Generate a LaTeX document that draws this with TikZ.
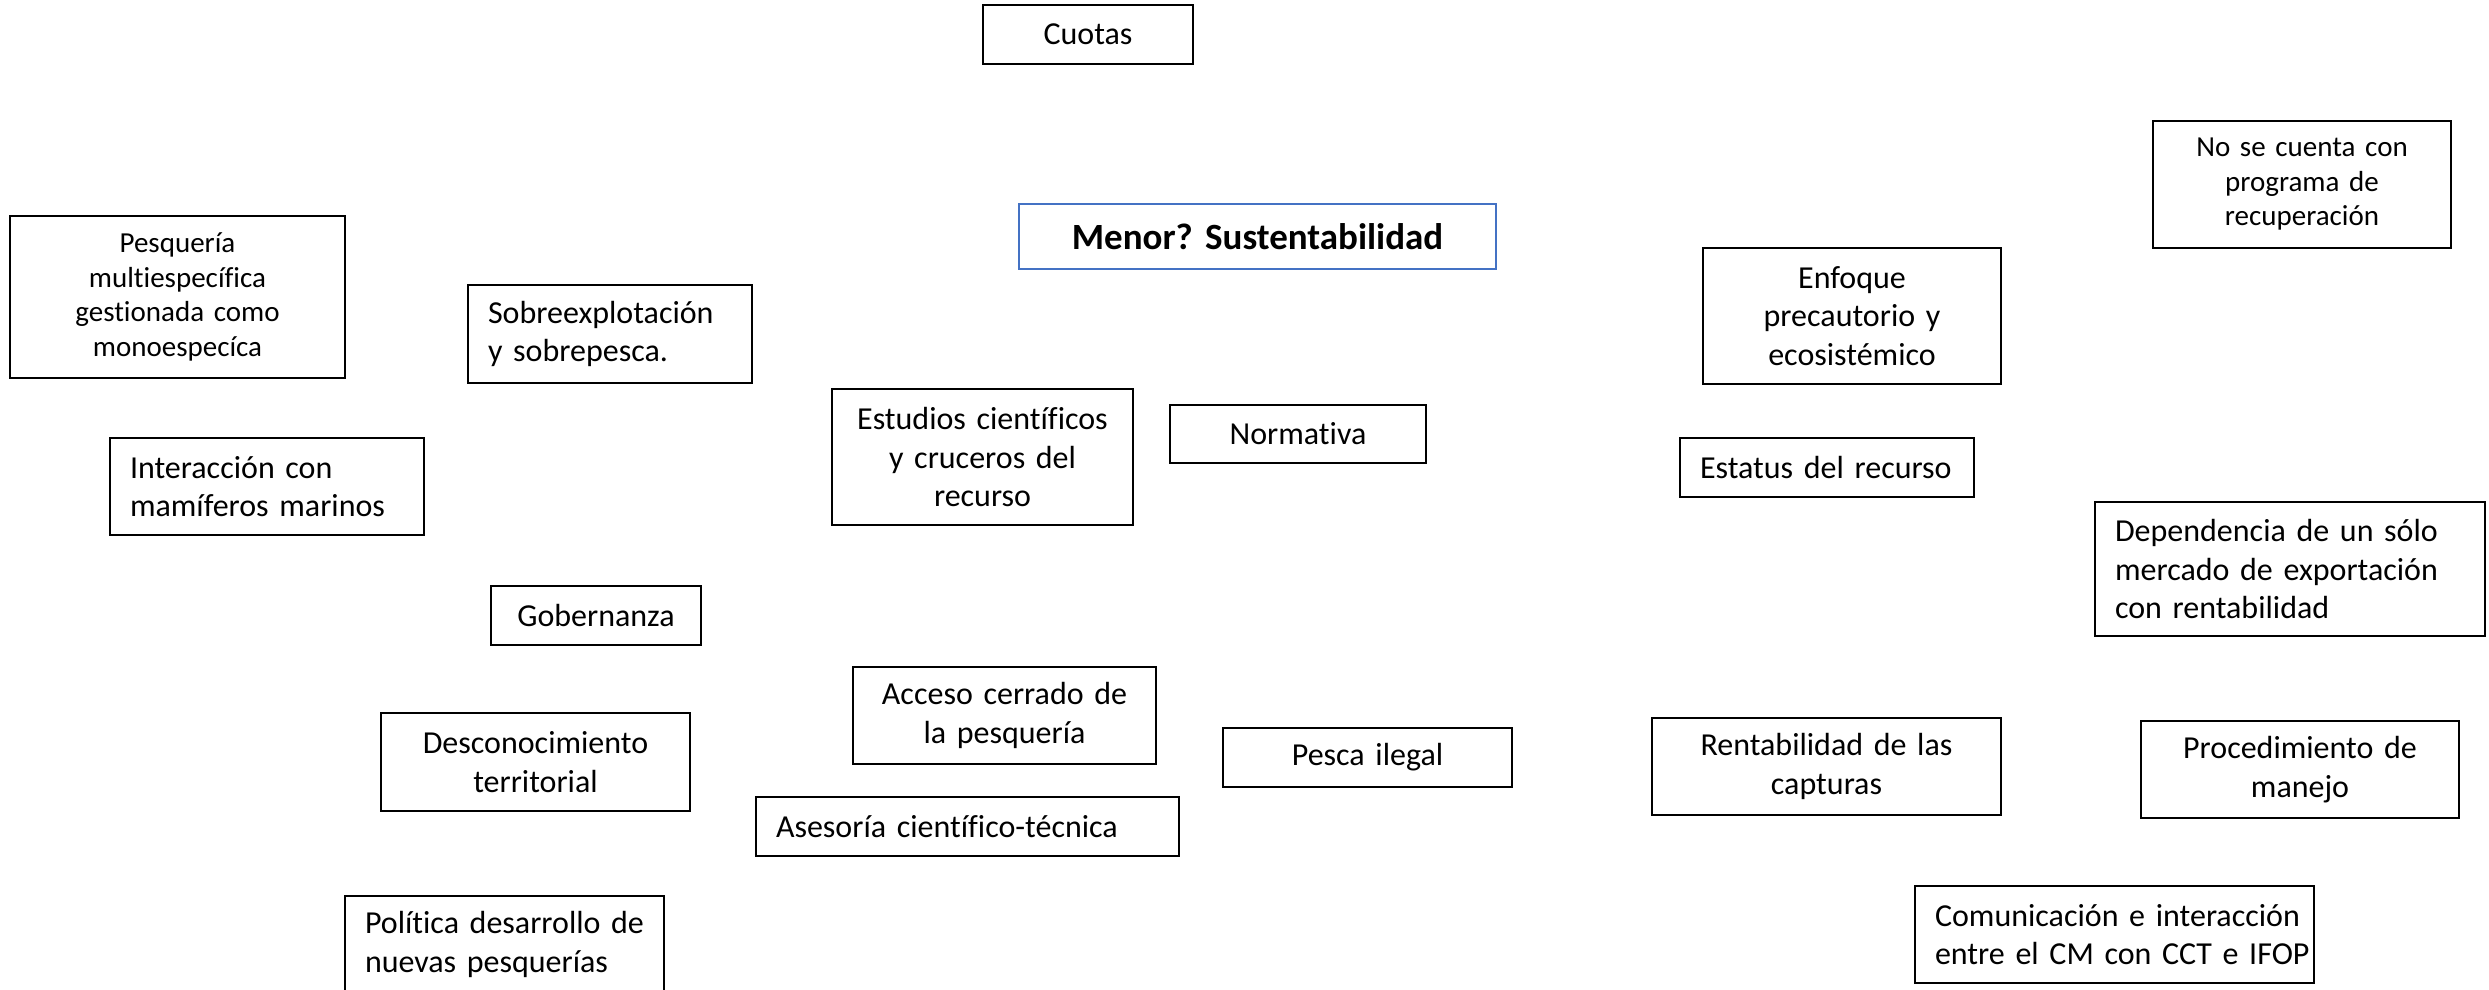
\documentclass[tikz,border=0pt]{standalone}
\usepackage{fontspec}
\setmainfont{Carlito}[Ligatures=NoCommon]
\definecolor{boxblue}{RGB}{68,114,196}
\tikzset{
  box/.style={draw=black, line width=2.6pt, inner sep=0pt, outer sep=0pt, anchor=north west,
    font=\fontsize{32}{38.5}\selectfont\frenchspacing},
  cbox/.style={box, align=center},
  lbox/.style={box, align=left},
  smallfont/.style={font=\fontsize{29}{34.5}\selectfont\frenchspacing},
  mainbox/.style={draw=boxblue, line width=2.2pt, inner sep=0pt, outer sep=0pt, anchor=north west,
    align=center, font=\fontsize{37}{44}\selectfont\bfseries\frenchspacing}
}
\begin{document}
\begin{tikzpicture}[x=1pt,y=-1pt]
\useasboundingbox (0,0) rectangle (2489,989);
\begin{scope}
\clip (0,0) rectangle (2489,989);
% top
\node[cbox, minimum width=210pt, minimum height=59pt, text width=190pt] (cuotas) at (983,5) {Cuotas};
\node[mainbox, minimum width=477pt, minimum height=65pt, text width=457pt] (main) at (1019,204) {Menor? Sustentabilidad};
% left column
\node[cbox, smallfont, minimum width=335pt, minimum height=162pt, text width=300pt] (pesq) at (10,216) {Pesquería\\multiespecífica\\gestionada como\\monoespecíca};
\node[lbox, minimum width=284pt, minimum height=98pt, text width=244pt] (sobre) at (468,285) {\mbox{Sobreexplotación}\\\mbox{y sobrepesca.}};
\node[lbox, minimum width=314pt, minimum height=97pt, text width=274pt] (inter) at (110,438) {\mbox{Interacción con}\\\mbox{mamíferos marinos}};
\node[cbox, minimum width=301pt, minimum height=136pt, text width=291pt] (estud) at (832,389) {Estudios científicos\\y cruceros del\\recurso};
\node[cbox, minimum width=256pt, minimum height=58pt, text width=236pt] (norm) at (1170,405) {Normativa};
\node[cbox, minimum width=210pt, minimum height=59pt, text width=190pt] (gob) at (491,586) {Gobernanza};
\node[cbox, minimum width=303pt, minimum height=97pt, text width=293pt] (acceso) at (853,667) {Acceso cerrado de\\la pesquería};
\node[cbox, minimum width=309pt, minimum height=98pt, text width=289pt] (desc) at (381,713) {Desconocimiento\\territorial};
\node[cbox, minimum width=289pt, minimum height=59pt, text width=269pt] (pesca) at (1223,728) {Pesca ilegal};
\node[lbox, minimum width=423pt, minimum height=59pt, text width=383pt] (ases) at (756,797) {\mbox{Asesoría científico-técnica}};
\node[lbox, minimum width=319pt, minimum height=97pt, text width=279pt] (polit) at (345,896) {\mbox{Política desarrollo de}\\\mbox{nuevas pesquerías}};
% right side
\node[cbox, smallfont, minimum width=298pt, minimum height=127pt, text width=278pt] (nose) at (2153,121) {No se cuenta con\\programa de\\recuperación};
\node[cbox, minimum width=298pt, minimum height=136pt, text width=288pt] (enf) at (1703,248) {Enfoque\\precautorio y\\ecosistémico};
\node[lbox, minimum width=294pt, minimum height=59pt, text width=254pt] (estat) at (1680,438) {\mbox{Estatus del recurso}};
\node[lbox, minimum width=390pt, minimum height=134pt, text width=350pt] (dep) at (2095,502) {\mbox{Dependencia de un sólo}\\\mbox{mercado de exportación}\\\mbox{con rentabilidad}};
\node[cbox, minimum width=349pt, minimum height=97pt, text width=339pt] (rent) at (1652,718) {Rentabilidad de las\\capturas};
\node[cbox, minimum width=318pt, minimum height=97pt, text width=308pt] (proc) at (2141,721) {Procedimiento de\\manejo};
\node[lbox, minimum width=399pt, minimum height=97pt, text width=359pt] (comu) at (1915,886) {\mbox{Comunicación e interacción}\\\mbox{entre el CM con CCT e IFOP}};
\end{scope}
\end{tikzpicture}
\end{document}
